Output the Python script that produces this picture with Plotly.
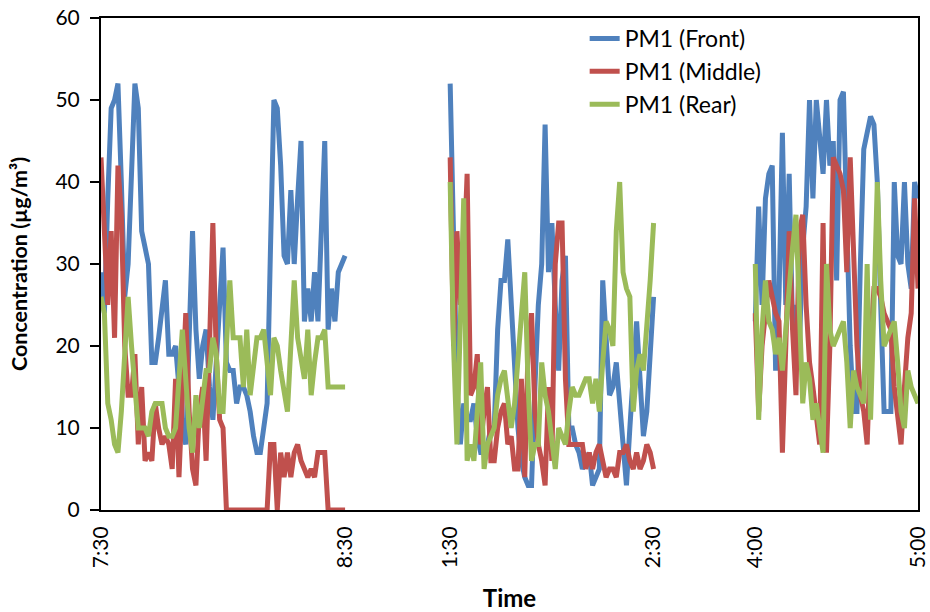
import plotly.graph_objects as go

# PM1 concentration (µg/m³), one reading per category slot, three sampling windows
front_am = [29, 24, 38, 49, 50, 52, 40, 26, 30, 42, 52, 49, 34, 32, 30, 18, 18, 21, 24, 28,
            19, 19, 20, 14, 10, 8, 20, 34, 22, 16, 20, 22, 15, 11, 18, 25, 32, 18, 17, 17,
            13, 15, 15, 14, 12, 9, 7, 7, 10, 13, 32, 50, 49, 42, 31, 30, 39, 30, 38, 45,
            23, 27, 23, 29, 23, 34, 45, 22, 27, 23, 29, 30, 31]
middle_am = [43, 35, 25, 34, 21, 42, 36, 20, 14, 14, 19, 8, 15, 6, 7, 6, 13, 10, 8, 9,
             8, 5, 16, 4, 14, 24, 12, 5, 3, 12, 15, 6, 20, 35, 19, 11, 10, 0, 0, 0,
             0, 0, 0, 0, 0, 0, 0, 0, 0, 0, 8, 8, 0, 7, 4, 7, 4, 7, 8, 6,
             5, 4, 5, 4, 7, 7, 7, 0, 0, 0, 0, 0, 0]
rear_am = [26, 24, 13, 11, 8, 7, 12, 20, 26, 20, 14, 10, 10, 10, 9, 12, 13, 13, 13, 10,
           9, 9, 10, 16, 22, 16, 10, 7, 14, 10, 14, 17, 17, 21, 19, 12, 12, 19, 28, 21,
           21, 21, 15, 22, 14, 18, 21, 21, 22, 18, 14, 21, 20, 17, 14, 12, 20, 28, 21, 18,
           16, 22, 14, 18, 21, 21, 22, 15, 15, 15, 15, 15, 15]

front_pm1 = [52, 30, 15, 8, 13, 11, 11, 13, 9, 7, 7, 8, 10, 10, 22, 28, 28, 33, 25, 18,
             10, 6, 4, 3, 3, 15, 25, 30, 47, 29, 35, 25, 17, 28, 31, 10, 10, 8, 7, 5,
             6, 7, 3, 4, 5, 28, 20, 14, 15, 18, 13, 8, 3, 10, 16, 23, 16, 9, 12, 20,
             26]
middle_pm1 = [43, 20, 34, 25, 30, 41, 14, 15, 19, 8, 12, 15, 6, 6, 10, 12, 13, 8, 9, 5,
              5, 16, 4, 20, 24, 12, 8, 6, 3, 15, 6, 30, 35, 35, 16, 8, 8, 8, 8, 8,
              5, 7, 5, 7, 8, 6, 4, 5, 5, 4, 7, 7, 8, 6, 5, 7, 5, 6, 8, 7,
              5]
rear_pm1 = [40, 20, 8, 25, 38, 6, 8, 6, 12, 18, 5, 8, 9, 10, 14, 16, 17, 13, 10, 13,
            18, 24, 29, 15, 6, 8, 8, 18, 14, 12, 8, 5, 10, 9, 8, 12, 15, 14, 14, 15,
            16, 16, 13, 16, 12, 18, 23, 22, 20, 34, 40, 29, 27, 26, 12, 17, 19, 17, 22, 28,
            35]

front_pm2 = [23, 37, 25, 38, 41, 42, 17, 26, 46, 25, 41, 22, 25, 20, 32, 37, 50, 38, 50, 45,
             41, 50, 42, 45, 28, 50, 51, 35, 20, 12, 12, 30, 44, 46, 48, 47, 40, 25, 12, 12,
             12, 40, 31, 30, 40, 30, 27, 40, 38]
middle_pm2 = [24, 12, 20, 24, 28, 26, 24, 23, 7, 20, 34, 22, 14, 34, 36, 25, 18, 15, 12, 8,
              35, 7, 20, 43, 42, 41, 39, 29, 43, 30, 20, 14, 12, 8, 20, 27, 27, 26, 24, 23,
              22, 15, 12, 8, 15, 21, 24, 38, 27]
rear_pm2 = [30, 11, 22, 28, 23, 22, 19, 21, 17, 22, 28, 32, 36, 22, 13, 18, 16, 11, 13, 10,
            7, 30, 22, 20, 21, 22, 23, 18, 10, 17, 15, 14, 13, 30, 11, 25, 40, 28, 20, 21,
            22, 23, 18, 12, 10, 17, 15, 14, 13]

# empty category slots between the sampling windows
gap_after = [30, 29]
window_labels = [("7:30", "8:30"), ("1:30", "2:30"), ("4:00", "5:00")]

series = [
    ("PM1 (Front)", "#4F81BD", [front_am, front_pm1, front_pm2]),
    ("PM1 (Middle)", "#C0504D", [middle_am, middle_pm1, middle_pm2]),
    ("PM1 (Rear)", "#9BBB59", [rear_am, rear_pm1, rear_pm2]),
]

# category index where each window starts
lengths = [len(w) for w in series[0][2]]
starts = [0]
for n, g in zip(lengths[:-1], gap_after):
    starts.append(starts[-1] + n + g)

tickvals, ticktext = [], []
for s, n, (a, b) in zip(starts, lengths, window_labels):
    tickvals += [s, s + n - 1]
    ticktext += [a, b]

fig = go.Figure()
for name, color, windows in series:
    xs, ys = [], []
    for s, vals in zip(starts, windows):
        xs += list(range(s, s + len(vals))) + [None]
        ys += list(vals) + [None]
    fig.add_trace(go.Scatter(
        x=xs, y=ys, mode="lines", name=name, legendgroup=name,
        line=dict(color=color, width=5), connectgaps=False,
    ))

font = "Lato, 'Open Sans', sans-serif"
fig.update_layout(
    width=930, height=612,
    margin=dict(l=101, r=12, t=18, b=102, autoexpand=False),
    paper_bgcolor="white", plot_bgcolor="white",
    font=dict(family=font, size=21, color="black"),
    showlegend=True,
    legend=dict(x=0.592, y=1.002, xanchor="left", yanchor="top",
                bgcolor="rgba(0,0,0,0)", font=dict(size=23),
                tracegroupgap=0),
    xaxis=dict(
        range=[0, tickvals[-1]], tickmode="array", tickvals=tickvals, ticktext=ticktext,
        tickangle=-90, ticks="", showgrid=False, zeroline=False,
        showline=True, linecolor="black", linewidth=2, mirror=True,
        ticklabelstandoff=6, ticklabeloverflow="allow",
        title=dict(text="<b>Time</b>", font=dict(size=24), standoff=24),
        tickfont=dict(size=21),
    ),
    yaxis=dict(
        range=[0, 60], dtick=10, ticks="outside", ticklen=9, tickwidth=2,
        tickcolor="black", showgrid=False, zeroline=False,
        showline=True, linecolor="black", linewidth=2, mirror=True,
        ticklabelstandoff=6,
        title=dict(text="<b>Concentration (µg/m³)</b>", font=dict(size=21.5), standoff=22),
        tickfont=dict(size=21),
    ),
)

fig.write_html("out.html")
